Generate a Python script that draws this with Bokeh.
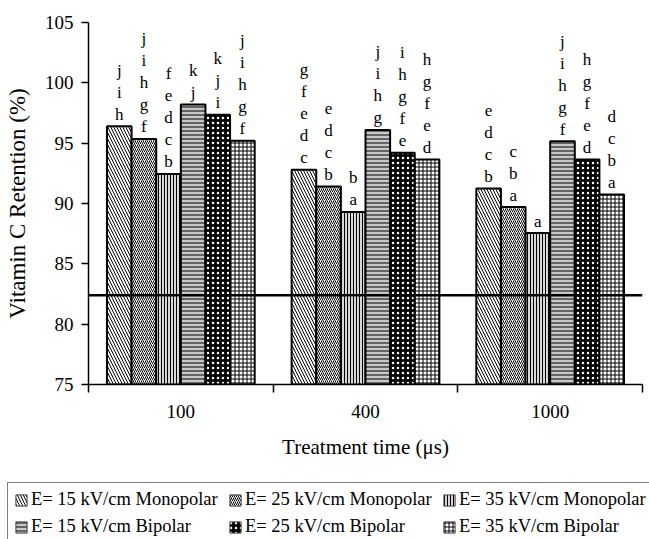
from bokeh.plotting import figure
from bokeh.layouts import column
from bokeh.models import (ColumnDataSource, Range1d, FixedTicker, Span, Legend, LegendItem)
from bokeh.embed import file_html
from bokeh.resources import INLINE

# ---------------- data ----------------
times = ["100", "400", "1000"]
series = ["E= 15 kV/cm Monopolar", "E= 25 kV/cm Monopolar", "E= 35 kV/cm Monopolar",
          "E= 15 kV/cm Bipolar", "E= 25 kV/cm Bipolar", "E= 35 kV/cm Bipolar"]
mono15 = [96.4, 92.8, 91.25]
mono25 = [95.35, 91.4, 89.7]
mono35 = [92.45, 89.3, 87.55]
bip15 = [98.2, 96.1, 95.15]
bip25 = [97.35, 94.2, 93.65]
bip35 = [95.2, 93.65, 90.75]
# significance letters, listed bottom -> top
let_mono15 = ["hij", "cdefg", "bcde"]
let_mono25 = ["fghij", "bcde", "abc"]
let_mono35 = ["bcdef", "ab", "a"]
let_bip15 = ["jk", "ghij", "fghij"]
let_bip25 = ["ijk", "efghi", "defgh"]
let_bip35 = ["fghij", "defgh", "abcd"]
control = 82.4
y_ticks = [75, 80, 85, 90, 95, 100, 105]

values = [mono15, mono25, mono35, bip15, bip25, bip35]
letters = [let_mono15, let_mono25, let_mono35, let_bip15, let_bip25, let_bip35]

# ---------------- styles ----------------
FONT = "Liberation Serif"
styles = [
    dict(fill_color="white", hatch_pattern="left_diagonal_line", hatch_scale=6, hatch_weight=1, hatch_color="black"),
    dict(fill_color="white", hatch_pattern="right_diagonal_line", hatch_scale=4, hatch_weight=1, hatch_color="black"),
    dict(fill_color="#d8d8d8", hatch_pattern="vertical_line", hatch_scale=3, hatch_weight=1, hatch_color="black"),
    dict(fill_color="#c8c8c8", hatch_pattern="horizontal_line", hatch_scale=4, hatch_weight=1, hatch_color="black"),
    dict(fill_color="black", hatch_pattern="dot", hatch_scale=5, hatch_weight=1, hatch_color="white"),
    dict(fill_color="white", hatch_pattern="cross", hatch_scale=4, hatch_weight=1, hatch_color="black"),
]

n_s = len(series)
group_w = 0.8
bw = group_w / n_s
centers = [i + 0.5 for i in range(len(times))]
bounds = [float(i) for i in range(len(times) + 1)]

p = figure(width=649, height=482, output_backend="svg", toolbar_location=None,
           x_range=Range1d(0, len(times)), y_range=Range1d(75, 105),
           min_border_left=88, min_border_right=7, min_border_top=22, min_border_bottom=98)
p.outline_line_color = None
p.xgrid.visible = False
p.ygrid.visible = False
p.background_fill_color = "white"
p.border_fill_color = "white"
p.frame_align = False

renderers = []
sources = []
tx, ty, tt, toff = [], [], [], []
for si in range(n_s):
    xs = [c + (si - (n_s - 1) / 2) * bw for c in centers]
    src = ColumnDataSource(dict(x=xs, top=values[si]))
    sources.append(src)
    r = p.vbar(x="x", top="top", bottom=75, width=bw, source=src,
               line_color="black", line_width=2, **styles[si])
    renderers.append(r)
    for gi in range(len(times)):
        for k, ch in enumerate(letters[si][gi]):
            tx.append(xs[gi])
            ty.append(values[si][gi])
            tt.append(ch)
            toff.append(-(12 + 22 * k))

p.text(x="x", y="y", text="t", y_offset="off",
       source=ColumnDataSource(dict(x=tx, y=ty, t=tt, off=toff)),
       text_font=FONT, text_font_size="17px", text_align="center",
       text_baseline="alphabetic", text_color="black")

p.add_layout(Span(location=control, dimension="width", line_color="black", line_width=2.5))

# x axis
xa = p.xaxis[0]
xa.ticker = FixedTicker(ticks=centers, minor_ticks=bounds)
xa.major_label_overrides = {c: t for c, t in zip(centers, times)}
xa.major_tick_out = 0
xa.major_tick_in = 0
xa.minor_tick_out = 8
xa.minor_tick_in = 0
xa.minor_tick_line_width = 1.5
xa.minor_tick_line_color = "black"
xa.axis_line_width = 1.5
xa.axis_line_color = "black"
xa.major_label_text_font = FONT
xa.major_label_text_font_size = "19px"
xa.major_label_text_color = "black"
xa.major_label_standoff = 12
xa.axis_label = "Treatment time (μs)"
xa.axis_label_text_font = FONT
xa.axis_label_text_font_size = "21px"
xa.axis_label_text_font_style = "normal"
xa.axis_label_text_color = "black"
xa.axis_label_standoff = 14

# y axis
ya = p.yaxis[0]
ya.ticker = FixedTicker(ticks=y_ticks)
ya.major_tick_out = 7
ya.major_tick_in = 0
ya.major_tick_line_width = 1.5
ya.major_tick_line_color = "black"
ya.minor_tick_out = 0
ya.minor_tick_in = 0
ya.axis_line_width = 1.5
ya.axis_line_color = "black"
ya.major_label_text_font = FONT
ya.major_label_text_font_size = "19px"
ya.major_label_text_color = "black"
ya.major_label_standoff = 8
ya.axis_label = "Vitamin C Retention (%)"
ya.axis_label_text_font = FONT
ya.axis_label_text_font_size = "23px"
ya.axis_label_text_font_style = "normal"
ya.axis_label_text_color = "black"
ya.axis_label_standoff = 12

# ---------------- legend (separate strip below the chart) ----------------
# legend renderers share the bar sources; this strip's ranges keep the bars themselves out of view
pl = figure(width=649, height=57, output_backend="svg", toolbar_location=None,
            x_range=Range1d(0, 1), y_range=Range1d(0, 1),
            min_border_left=7, min_border_right=0, min_border_top=0, min_border_bottom=0)
pl.frame_align = False
pl.axis.visible = False
pl.xgrid.visible = False
pl.ygrid.visible = False
pl.outline_line_color = None
pl.background_fill_color = "white"
pl.border_fill_color = "white"
leg_renderers = []
for si in range(n_s):
    leg_renderers.append(pl.vbar(x="x", top="top", bottom=75, width=bw, source=sources[si],
                                 line_color="#444444", line_width=1, **styles[si]))

legend = Legend(items=[LegendItem(label=s, renderers=[r]) for s, r in zip(series, leg_renderers)],
                orientation="horizontal", ncols=3, location="top_left",
                border_line_color="black", border_line_width=1.5,
                padding=6, spacing=6, margin=0,
                glyph_width=14, glyph_height=14, label_height=21, label_width=191,
                label_standoff=3, label_text_font=FONT, label_text_font_size="18.5px",
                label_text_color="black", background_fill_alpha=1.0)
pl.add_layout(legend, "center")

layout = column(p, pl, spacing=0)
open("out.html", "w").write(file_html(layout, INLINE))
